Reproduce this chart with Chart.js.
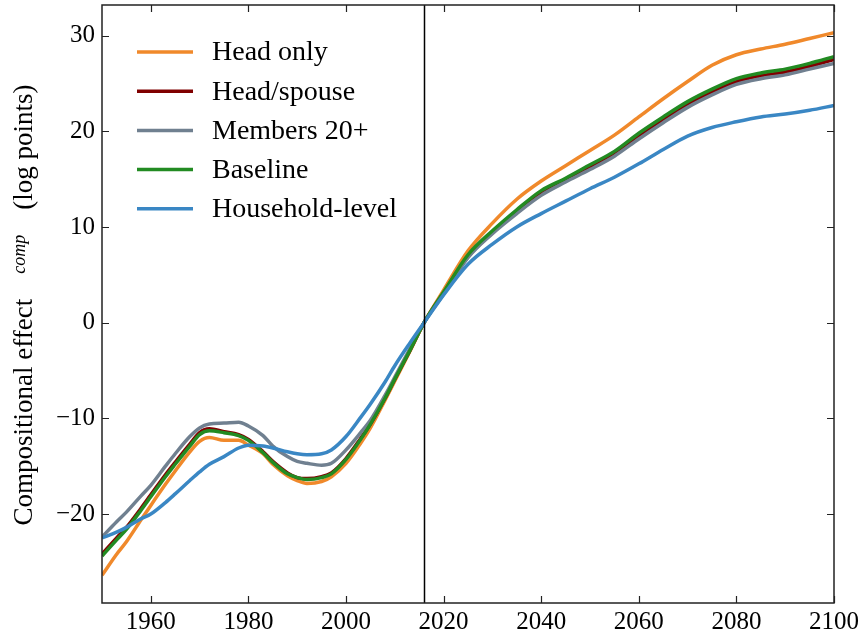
<!DOCTYPE html>
<html>
<head>
<meta charset="utf-8">
<script src="https://cdn.jsdelivr.net/npm/chart.js@4"></script>
<style>
  body { margin: 0; background: #fff; }
  canvas { display: block; }
</style>
</head>
<body>
<canvas id="chart" width="862" height="634"></canvas>
<script>
// años y series
const years = [1950, 1953, 1955, 1958, 1960, 1963, 1965, 1968, 1970, 1972, 1975, 1978, 1980, 1983, 1985, 1988, 1990, 1992, 1995, 1997, 2000, 2003, 2005, 2008, 2010, 2013, 2016, 2020, 2025, 2030, 2035, 2040, 2045, 2050, 2055, 2060, 2065, 2070, 2075, 2080, 2085, 2090, 2095, 2100];

const headOnly = [-26.4, -24.2, -22.9, -20.6, -19.1, -16.9, -15.5, -13.5, -12.4, -12.0, -12.3, -12.3, -12.8, -13.7, -14.8, -16.0, -16.5, -16.8, -16.6, -16.1, -14.7, -12.6, -11.0, -8.1, -6.1, -3.1, 0, 3.4, 7.5, 10.4, 12.9, 14.8, 16.4, 18.0, 19.6, 21.5, 23.4, 25.2, 26.9, 28.0, 28.6, 29.1, 29.7, 30.3];
const headSpouse = [-24.2, -22.5, -21.4, -19.4, -18.0, -15.9, -14.6, -12.7, -11.5, -11.1, -11.4, -11.7, -12.2, -13.5, -14.5, -15.7, -16.2, -16.3, -16.1, -15.7, -14.2, -12.1, -10.6, -7.9, -5.9, -3.0, 0, 3.1, 6.9, 9.4, 11.6, 13.5, 14.9, 16.2, 17.6, 19.5, 21.2, 22.8, 24.1, 25.2, 25.8, 26.2, 26.8, 27.5];
const members20 = [-22.4, -20.8, -19.8, -18.1, -17.0, -15.0, -13.7, -11.9, -11.0, -10.6, -10.5, -10.4, -10.8, -11.8, -12.9, -14.0, -14.5, -14.7, -14.9, -14.7, -13.3, -11.5, -10.2, -7.6, -5.7, -2.8, 0, 3.0, 6.8, 9.3, 11.4, 13.3, 14.7, 16.0, 17.4, 19.2, 20.9, 22.5, 23.8, 24.9, 25.5, 25.9, 26.5, 27.1];
const baseline = [-24.4, -22.7, -21.6, -19.6, -18.2, -16.1, -14.8, -12.9, -11.7, -11.3, -11.5, -11.8, -12.3, -13.6, -14.6, -15.8, -16.2, -16.4, -16.2, -15.8, -14.3, -12.2, -10.6, -7.9, -5.9, -3.0, 0, 3.2, 7.1, 9.6, 11.8, 13.8, 15.1, 16.5, 17.9, 19.8, 21.5, 23.1, 24.4, 25.5, 26.1, 26.5, 27.1, 27.8];
const household = [-22.5, -21.9, -21.4, -20.5, -20.0, -18.8, -17.9, -16.5, -15.6, -14.8, -14.0, -13.1, -12.8, -12.9, -13.1, -13.5, -13.7, -13.8, -13.7, -13.3, -11.9, -9.9, -8.5, -6.2, -4.5, -2.2, 0, 2.9, 6.1, 8.2, 10.0, 11.4, 12.7, 14.0, 15.2, 16.6, 18.1, 19.5, 20.4, 21.0, 21.5, 21.8, 22.2, 22.7];

const seriesNames = ['Head only', 'Head/spouse', 'Members 20+', 'Baseline', 'Household-level'];
const seriesColors = ['#F0892B', '#800000', '#708090', '#228B22', '#3A87C4'];
const seriesValues = [headOnly, headSpouse, members20, baseline, household];

const xTicks = [1960, 1980, 2000, 2020, 2040, 2060, 2080, 2100];
const yTicks = [-20, -10, 0, 10, 20, 30];
const markerYear = 2016;

const FONT = "'Liberation Serif', 'Times New Roman', serif";

// datasets: el primero de la lista queda debajo (como en matplotlib)
const datasets = seriesNames.map((name, i) => ({
    label: name,
    data: years.map((yr, j) => ({ x: yr, y: seriesValues[i][j] })),
    borderColor: seriesColors[i],
    backgroundColor: seriesColors[i],
    borderWidth: 3.5,
    pointRadius: 0,
    cubicInterpolationMode: 'monotone',
    order: seriesNames.length - i
}));

// marco, ticks hacia dentro, línea vertical, leyenda y etiqueta del eje y
const decorations = {
    id: 'decorations',
    afterDatasetsDraw(chart) {
        const { ctx, chartArea: a, scales: { x, y } } = chart;
        ctx.save();

        // línea vertical del año base
        const mx = Math.round(x.getPixelForValue(markerYear)) + 0.5;
        ctx.strokeStyle = '#000';
        ctx.lineWidth = 1.5;
        ctx.beginPath();
        ctx.moveTo(mx, a.top);
        ctx.lineTo(mx, a.bottom);
        ctx.stroke();

        // marco
        ctx.strokeStyle = '#222';
        ctx.lineWidth = 1.5;
        ctx.strokeRect(a.left, a.top, a.right - a.left, a.bottom - a.top);

        // ticks
        const tl = 7;
        ctx.lineWidth = 1.2;
        ctx.beginPath();
        xTicks.forEach(v => {
            const px = Math.round(x.getPixelForValue(v)) + 0.5;
            ctx.moveTo(px, a.bottom); ctx.lineTo(px, a.bottom - tl);
            ctx.moveTo(px, a.top); ctx.lineTo(px, a.top + tl);
        });
        yTicks.forEach(v => {
            const py = Math.round(y.getPixelForValue(v)) + 0.5;
            ctx.moveTo(a.left, py); ctx.lineTo(a.left + tl, py);
            ctx.moveTo(a.right, py); ctx.lineTo(a.right - tl, py);
        });
        ctx.stroke();

        // leyenda
        const lx0 = a.left + 35, lx1 = a.left + 91, tx = a.left + 110;
        let ly = a.top + 47;
        ctx.font = '28px ' + FONT;
        ctx.textBaseline = 'middle';
        ctx.textAlign = 'left';
        seriesNames.forEach((name, i) => {
            ctx.strokeStyle = seriesColors[i];
            ctx.lineWidth = 3.5;
            ctx.beginPath();
            ctx.moveTo(lx0, ly); ctx.lineTo(lx1, ly);
            ctx.stroke();
            ctx.fillStyle = '#000';
            ctx.fillText(name, tx, ly + 1);
            ly += 39.2;
        });

        // etiqueta del eje y (rotada)
        const mainFont = '27px ' + FONT;
        const supFont = 'italic 18px ' + FONT;
        const partA = 'Compositional effect';
        const partB = 'comp';
        const partC = '(log points)';
        ctx.font = mainFont;
        const wA = ctx.measureText(partA).width;
        const wC = ctx.measureText(partC).width;
        ctx.font = supFont;
        const wB = ctx.measureText(partB).width;
        const gap1 = 25, gap2 = 25;
        const total = wA + gap1 + wB + gap2 + wC;
        const cy = 305;
        ctx.translate(32, cy);
        ctx.rotate(-Math.PI / 2);
        ctx.fillStyle = '#000';
        ctx.textBaseline = 'alphabetic';
        let pos = -total / 2;
        ctx.font = mainFont;
        ctx.fillText(partA, pos, 0);
        pos += wA + gap1;
        ctx.font = supFont;
        ctx.fillText(partB, pos, -7);
        pos += wB + gap2;
        ctx.font = mainFont;
        ctx.fillText(partC, pos, 0);

        ctx.restore();
    }
};

new Chart(document.getElementById('chart'), {
    type: 'line',
    data: { datasets },
    options: {
        responsive: false,
        animation: false,
        devicePixelRatio: 1,
        layout: { padding: { top: 5, right: 28, left: 0, bottom: 0 } },
        plugins: {
            legend: { display: false },
            tooltip: { enabled: false }
        },
        scales: {
            x: {
                type: 'linear',
                min: 1950,
                max: 2100,
                afterBuildTicks: s => { s.ticks = xTicks.map(v => ({ value: v })); },
                afterFit: s => { s.height = 31; s.paddingLeft = 0; s.paddingRight = 0; },
                grid: { display: false, drawTicks: false },
                border: { display: false },
                ticks: {
                    color: '#000',
                    padding: 4,
                    maxRotation: 0,
                    autoSkip: false,
                    font: { family: FONT, size: 25 },
                    callback: v => String(v)
                }
            },
            y: {
                type: 'linear',
                min: -29.3,
                max: 33.2,
                afterBuildTicks: s => { s.ticks = yTicks.map(v => ({ value: v })); },
                afterFit: s => { s.width = 102; s.paddingTop = 0; s.paddingBottom = 0; },
                grid: { display: false, drawTicks: false },
                border: { display: false },
                ticks: {
                    color: '#000',
                    padding: 7,
                    autoSkip: false,
                    font: { family: FONT, size: 25 },
                    callback: v => (v < 0 ? '\u2212' + Math.abs(v) : String(v))
                }
            }
        }
    },
    plugins: [decorations]
});
</script>
</body>
</html>
